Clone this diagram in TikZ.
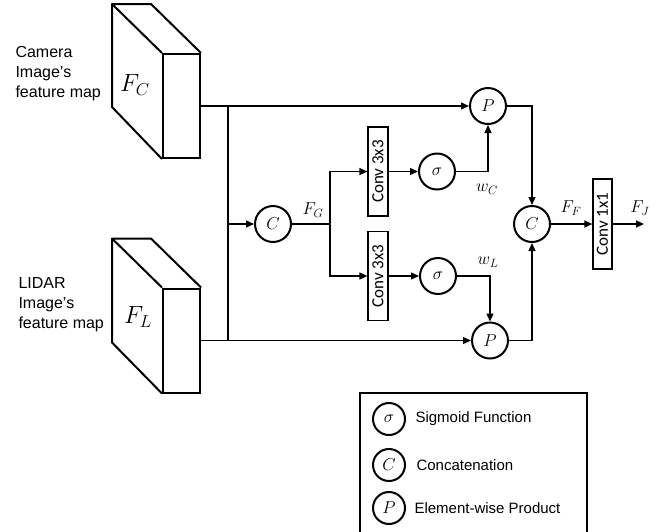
\documentclass[tikz,border=0pt]{standalone}
\usepackage{fontspec}
\setmainfont{Liberation Sans}
\newfontfamily\convfont{Carlito}
\usetikzlibrary{arrows.meta,positioning}

\begin{document}
\begin{tikzpicture}[x=1pt, y=-1pt,
  op/.style={draw, circle, line width=2pt, minimum size=36pt, inner sep=0pt, font=\fontsize{17}{17}\selectfont},
  key/.style={op, minimum size=32pt},
  conv/.style={draw, line width=1.2pt, rotate=90, minimum width=89pt, minimum height=20pt, inner sep=0pt, font=\convfont\fontsize{17}{17}\selectfont},
  face/.style={draw, line width=2pt, minimum width=37pt, minimum height=104pt, inner sep=0pt},
  lbl/.style={font=\fontsize{17}{17}\selectfont},
  txt/.style={align=left, font=\fontsize{16}{20}\selectfont},
  keytxt/.style={font=\fontsize{15}{15}\selectfont},
  arr/.style={line width=1.3pt, -{Triangle[length=8pt,width=7pt]}},
  wire/.style={line width=1.3pt}
]
\useasboundingbox (0,0) rectangle (661,531);

% Feature map blocks
\node[face] (camF) at (181.5,106) {};
\draw[line width=2pt, line join=round] (camF.north west) -- ++(-50,-49) -- ++(39,0) -- (camF.north east);
\draw[line width=2pt, line join=round] (camF.north west) ++(-50,-49) -- ++(0,103) -- (camF.south west);
\node[font=\fontsize{23}{23}\selectfont] (camL) at (135,85) {$F_C$};
\node[txt, anchor=west] (camT) at (12,74) {Camera\\Image's\\feature map};

\node[face] (lidF) at (181.5,340.5) {};
\draw[line width=2pt, line join=round] (lidF.north west) -- ++(-50,-49) -- ++(39,0) -- (lidF.north east);
\draw[line width=2pt, line join=round] (lidF.north west) ++(-50,-49) -- ++(0,104) -- (lidF.south west);
\node[font=\fontsize{23}{23}\selectfont] (lidL) at (138,317) {$F_L$};
\node[txt, anchor=west] (lidT) at (15,305) {LIDAR\\Image's\\feature map};

% Operators
\node[op] (catG) at (273,224) {$C$};
\node[conv] (convU) at (378,171.5) {Conv 3x3};
\node[conv] (convL) at (378,276) {Conv 3x3};
\node[op] (sigU) at (437,171.5) {$\sigma$};
\node[op] (sigL) at (438,276) {$\sigma$};
\node[op] (prodC) at (488,106) {$P$};
\node[op] (prodL) at (490,340.5) {$P$};
\node[op] (catF) at (532,224) {$C$};
\node[conv, minimum width=90pt, minimum height=19pt] (conv1) at (602.5,224) {Conv 1x1};

% Junctions
\coordinate (jc) at (228,106);
\coordinate (jl) at (228,340.5);
\coordinate (br) at (330,224);
\coordinate (out) at (644,224);

% Labels
\node[lbl] (fG) at (313,210) {$F_G$};
\node[lbl] (wC) at (487,189) {$w_C$};
\node[lbl] (wL) at (488,262) {$w_L$};
\node[lbl] (fF) at (571,208) {$F_F$};
\node[lbl] (fJ) at (640,208) {$F_J$};

% Connectors
\draw[arr] (camF.east) -- (prodC);
\draw[arr] (lidF.east) -- (prodL);
\draw[wire] (jc) -- (jl);
\draw[arr] (jc |- catG) -- (catG);
\draw[wire] (catG) -- (br);
\draw[arr] (br) |- (convU);
\draw[arr] (br) |- (convL);
\draw[arr] (convU) -- (sigU);
\draw[arr] (convL) -- (sigL);
\draw[arr] (sigU) -| (prodC);
\draw[arr] (sigL) -| (prodL);
\draw[arr] (prodC) -| (catF);
\draw[arr] (prodL) -| (catF);
\draw[arr] (catF) -- (conv1);
\draw[arr] (conv1) -- (out);

% Legend
\draw[line width=2.6pt] (360,540) |- (587,393) -- (587,540);
\node[key] (kSig) at (389,419) {$\sigma$};
\node[key] (kCat) at (389,465) {$C$};
\node[key] (kProd) at (389,508) {$P$};
\node[keytxt, right=6pt of kSig] (kSigT) {Sigmoid Function};
\node[keytxt, right=7pt of kCat] (kCatT) {Concatenation};
\node[keytxt, right=5pt of kProd] (kProdT) {Element-wise Product};
\end{tikzpicture}
\end{document}
